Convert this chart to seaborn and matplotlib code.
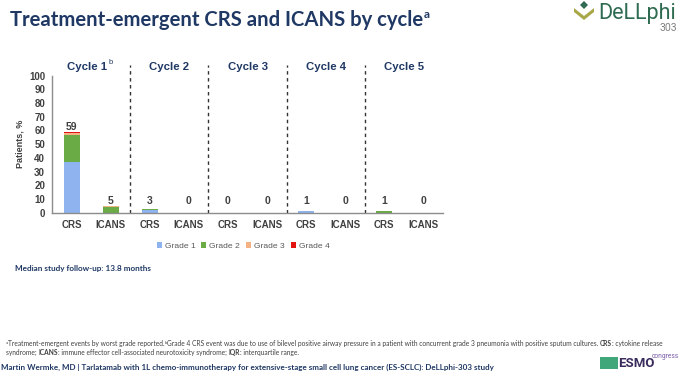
import matplotlib
matplotlib.use('Agg')
import matplotlib.pyplot as plt
from matplotlib.patches import Polygon, Rectangle, Patch
import seaborn as sns
import pandas as pd

# data
cycles = ["Cycle 1", "Cycle 2", "Cycle 3", "Cycle 4", "Cycle 5"]
events = ["CRS", "ICANS"]
grade_names = ["Grade 1", "Grade 2", "Grade 3", "Grade 4"]
grade1 = [37, 0, 2, 0, 0, 0, 1, 0, 0, 0]
grade2 = [20, 4, 1, 0, 0, 0, 0, 0, 1, 0]
grade3 = [1, 1, 0, 0, 0, 0, 0, 0, 0, 0]
grade4 = [1, 0, 0, 0, 0, 0, 0, 0, 0, 0]
grade_colors = ["#8FB3EE", "#6AAB45", "#F4B183", "#E3140F"]

W, H = 680, 388
navy = "#1F3864"
grey = "#404040"

sns.set_style("white")
plt.rcParams['font.family'] = ['Liberation Sans', 'DejaVu Sans']

slots = [f"{c}|{e}" for c in cycles for e in events]
df = pd.DataFrame({"slot": slots, "g1": grade1, "g2": grade2, "g3": grade3, "g4": grade4})
df["c1"] = df["g1"]
df["c2"] = df["c1"] + df["g2"]
df["c3"] = df["c2"] + df["g3"]
df["c4"] = df["c3"] + df["g4"]

fig = plt.figure(figsize=(W / 100, H / 100), dpi=100)
ax = fig.add_axes([52 / W, 1 - 212.7 / H, 391 / W, 137 / H])
renderer = fig.canvas.get_renderer()

# stacked bars: draw cumulative heights from the tallest down
for k in [3, 2, 1, 0]:
    sns.barplot(data=df, x="slot", y=f"c{k + 1}", order=slots, color=grade_colors[k],
                saturation=1, width=0.41, ax=ax, linewidth=0, errorbar=None)

ax.set_xlim(-0.5, 9.5)
ax.set_ylim(0, 100)
ax.set_yticks(range(0, 101, 10))
ax.set_xticks(range(10))
ax.set_xticklabels([s.split("|")[1] for s in slots])
ax.tick_params(axis="x", length=0, pad=5, labelsize=7, labelcolor=grey)
ax.tick_params(axis="y", length=3, width=0.8, color="#808080", pad=2, labelsize=7, labelcolor=grey)
for lab in ax.get_xticklabels() + ax.get_yticklabels():
    lab.set_fontweight("bold")
ax.set_xlabel("")
ax.set_ylabel("Patients, %", fontsize=6.5, fontweight="bold", color=grey, labelpad=3)
for side in ["top", "right"]:
    ax.spines[side].set_visible(False)
for side in ["left", "bottom"]:
    ax.spines[side].set_color("#8C8C8C")
    ax.spines[side].set_linewidth(1.0)

# total labels
for i, tot in enumerate(df["c4"]):
    ax.text(i, max(tot, 5) + 3.5, f"{tot:.0f}", ha="center", va="center",
            fontsize=7.5, fontweight="bold", color=grey)

# cycle separators and headers
for b in [1.5, 3.5, 5.5, 7.5]:
    ax.plot([b, b], [0, 108], ls=(0, (2.5, 2.5)), lw=1.0, color="#333333", clip_on=False)
cyc_texts = []
for j, c in enumerate(cycles):
    t = ax.text(2 * j + 0.5 - (0.1 if j == 0 else 0), 106.5, c, ha="center", va="center", fontsize=8.2,
                fontweight="bold", color=navy, clip_on=False)
    cyc_texts.append(t)
bb = cyc_texts[0].get_window_extent(renderer)
fig.text((bb.x1 + 1) / W, (bb.y1 - 1) / H, "b", ha="left", va="center", fontsize=5.5, color=navy)

# legend
handles = [Patch(facecolor=c, edgecolor="none") for c in grade_colors]
fig.legend(handles, grade_names, loc="center", bbox_to_anchor=(243 / W, 1 - 246 / H), ncol=4,
           frameon=False, fontsize=6.1, handlelength=0.6, handleheight=0.6, handletextpad=0.35,
           columnspacing=0.7, labelcolor="#595959")

# title
tt = fig.text(10 / W, 1 - 20 / H, "Treatment-emergent CRS and ICANS by cycle", fontsize=14.6,
              fontweight="bold", color=navy, family="Lato", va="center")
bb = tt.get_window_extent(renderer)
fig.text((bb.x1 + 1) / W, 1 - 14 / H, "a", fontsize=8.5, fontweight="bold", color=navy,
         family="Lato", va="center")

# logo
fig.patches.append(Polygon([[574 / W, 1 - 8 / H], [584 / W, 1 - 16 / H], [594 / W, 1 - 8 / H],
                            [594 / W, 1 - 12 / H], [584 / W, 1 - 20 / H], [574 / W, 1 - 12 / H]],
                           closed=True, transform=fig.transFigure, facecolor="#A8A84A", edgecolor="none"))
fig.patches.append(Polygon([[584 / W, 1 - 1 / H], [588 / W, 1 - 5 / H], [584 / W, 1 - 9 / H], [580 / W, 1 - 5 / H]],
                           closed=True, transform=fig.transFigure, facecolor="#2E6B50", edgecolor="none"))
fig.text(598 / W, 1 - 13 / H, "DeLLphi", fontsize=15.5, color="#2E6B50", family="Roboto", va="center")
fig.text(677 / W, 1 - 28 / H, "303", fontsize=7.5, color="#808080", family="Roboto", va="center", ha="right")

# follow-up note
fig.text(15 / W, 1 - 269 / H, "Median study follow-up: 13.8 months", fontsize=5.9, fontweight="bold",
         color=navy, family="Lato", va="center")


# footnote with mixed weights
def rich_line(x, y, parts, size, color):
    texts = []
    for s, w, dy, sc in parts:
        t = fig.text(x / W, 1 - (y - dy) / H, s, fontsize=size * sc, fontweight=w, color=color,
                     family="Lato", va="baseline")
        x += t.get_window_extent(renderer).width
        texts.append(t)
    return texts, x


fn1 = [("a", "normal", 2.5, 0.65),
       ("Treatment-emergent events by worst grade reported.", "normal", 0, 1),
       ("b", "normal", 2.5, 0.65),
       ("Grade 4 CRS event was due to use of bilevel positive airway pressure in a patient with concurrent "
        "grade 3 pneumonia with positive sputum cultures. ", "normal", 0, 1),
       ("CRS", "bold", 0, 1), (": cytokine release", "normal", 0, 1)]
fn2 = [("syndrome; ", "normal", 0, 1), ("ICANS", "bold", 0, 1),
       (": immune effector cell-associated neurotoxicity syndrome; ", "normal", 0, 1),
       ("IQR", "bold", 0, 1), (": interquartile range.", "normal", 0, 1)]

# pick the footnote size whose first line ends closest to x=672
best = None
for i in range(20):
    size = 4.7 + 0.03 * i
    texts, end = rich_line(6, 346, fn1, size, "#404040")
    for t in texts:
        t.remove()
    if end <= 674 and (best is None or end > best[1]):
        best = (size, end)
fn_size = best[0] if best else 4.9
rich_line(6, 346, fn1, fn_size, "#404040")
rich_line(6, 355, fn2, fn_size, "#404040")

fig.text(1 / W, 1 - 367 / H, "Martin Wermke, MD | Tarlatamab with 1L chemo-immunotherapy for extensive-stage "
         "small cell lung cancer (ES-SCLC): DeLLphi-303 study", fontsize=5.8, fontweight="bold",
         color=navy, family="Lato", va="center")

# ESMO badge
fig.patches.append(Rectangle((600 / W, 1 - 369 / H), 18 / W, 12 / H, transform=fig.transFigure,
                             facecolor="#3FA77A", edgecolor="none"))
fig.text(618 / W, 1 - 363.5 / H, "ESMO", fontsize=9.5, fontweight="bold", color="#3B2C5E",
         family="Roboto", va="center")
fig.text(652 / W, 1 - 356 / H, "congress", fontsize=4.8, color="#7B5EA7", family="Roboto", va="center")

fig.savefig("out.png", dpi=100)
